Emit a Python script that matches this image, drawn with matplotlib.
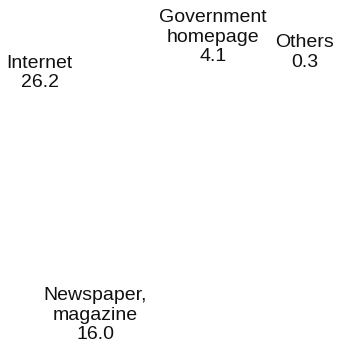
import matplotlib
matplotlib.use("Agg")
import matplotlib.pyplot as plt

plt.rcParams['font.family'] = ['Liberation Sans', 'DejaVu Sans']

# Shares in percent, counterclockwise from the start angle.
# Slices with an empty label carry no text in the picture (values estimated).
labels = ['Others', '', 'Government\nhomepage', '', 'Internet', '', 'Newspaper,\nmagazine', '']
shares = [0.3, 5.4, 4.1, 4.75, 26.2, 9.7, 16.0, 33.55]

fig = plt.figure(figsize=(3.38, 3.45), dpi=100)
# square axes, pie centre sits left of the figure middle
ax = fig.add_axes([1 / 338, 20 / 345, 300 / 338, 300 / 345])

texts_all = [f"{lab}\n{val:.1f}" if lab else "" for lab, val in zip(labels, shares)]
wedges, texts = ax.pie(shares, labels=texts_all, startangle=38, counterclock=True,
                       colors=['white'] * len(shares), labeldistance=1.258,
                       wedgeprops=dict(linewidth=0),
                       textprops=dict(fontsize=14, color='#111111'))

for t, val in zip(texts, shares):
    t.set_ha('center')
    t.set_va('center')
    t.set_multialignment('center')
    t.set_linespacing(1.2)
    if val < 1:
        # tiny slice: label pushed further out
        x, y = t.get_position()
        t.set_position((x * 1.3, y * 1.3))

fig.savefig('out.png', dpi=100)
